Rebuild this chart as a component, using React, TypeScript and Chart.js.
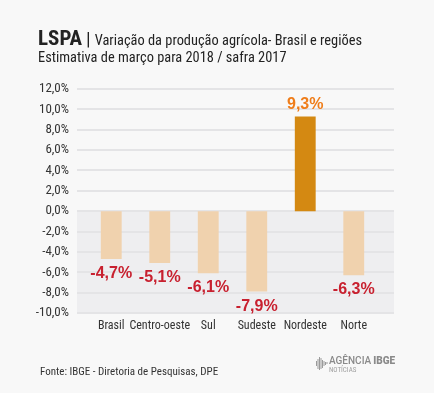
import React, { useEffect, useRef } from "react";
import { Chart, registerables } from "chart.js";

Chart.register(...registerables);

const categories = ["Brasil", "Centro-oeste", "Sul", "Sudeste", "Nordeste", "Norte"];
const values = [-4.7, -5.1, -6.1, -7.9, 9.3, -6.3];
const yTicks = [12, 10, 8, 6, 4, 2, 0, -2, -4, -6, -8, -10];

const NARROW = "'Liberation Sans Narrow', 'Roboto Condensed', 'Arial Narrow', Roboto, sans-serif";
const BOLD = "'Liberation Sans', Arial, sans-serif";

const fmt = (v: number) => v.toFixed(1).replace(".", ",") + "%";

const bgPlugin = {
  id: "bgGrid",
  beforeDatasetsDraw(chart: any) {
    const { ctx, chartArea, scales } = chart;
    const y = scales.y;
    const left = chartArea.left - 10;
    const right = chartArea.right + 16;
    ctx.save();
    const y0 = y.getPixelForValue(0);
    const yMin = y.getPixelForValue(-10);
    ctx.fillStyle = "#eeeef0";
    ctx.fillRect(left, y0, right - left, yMin - y0);
    ctx.strokeStyle = "#e4e4e6";
    ctx.lineWidth = 2;
    yTicks.forEach((t) => {
      const py = Math.round(y.getPixelForValue(t));
      ctx.beginPath();
      ctx.moveTo(left, py);
      ctx.lineTo(right, py);
      ctx.stroke();
    });
    ctx.restore();
  },
};

const labelPlugin = {
  id: "valLabels",
  afterDatasetsDraw(chart: any) {
    const { ctx } = chart;
    const meta = chart.getDatasetMeta(0);
    ctx.save();
    ctx.font = "bold 16px " + BOLD;
    ctx.textAlign = "center";
    ctx.textBaseline = "alphabetic";
    meta.data.forEach((bar: any, i: number) => {
      const v = values[i];
      if (v >= 0) {
        ctx.fillStyle = "#ef7d1a";
        ctx.fillText(fmt(v), bar.x, bar.y - 7);
      } else {
        ctx.fillStyle = "#c8202f";
        ctx.fillText(fmt(v), bar.x, bar.y + 19);
      }
    });
    ctx.restore();
  },
};

function ChartBox() {
  const ref = useRef<HTMLCanvasElement>(null);
  useEffect(() => {
    if (!ref.current) return;
    const chart = new Chart(ref.current, {
      type: "bar",
      data: {
        labels: categories,
        datasets: [
          {
            data: values,
            backgroundColor: values.map((v) => (v >= 0 ? "#d48912" : "#f0d2ae")),
            barPercentage: 1,
            categoryPercentage: 0.43,
          },
        ],
      },
      options: {
        animation: false,
        responsive: false,
        maintainAspectRatio: false,
        layout: { padding: { top: 89, bottom: 50, left: 0, right: 56 } },
        plugins: { legend: { display: false }, tooltip: { enabled: false }, title: { display: false } },
        scales: {
          x: {
            grid: { display: false, drawTicks: false },
            border: { display: false },
            ticks: { color: "#333", font: { family: NARROW, size: 12 }, padding: 6, maxRotation: 0, autoSkip: false },
            afterFit: (s: any) => { s.height = 30; },
          },
          y: {
            min: -10,
            max: 12,
            grid: { display: false, drawTicks: false },
            border: { display: false },
            ticks: { stepSize: 2, color: "#333", font: { family: NARROW, size: 13 }, padding: 18, callback: (v: any) => fmt(Number(v)) },
            afterFit: (s: any) => { s.width = 87; },
          },
        },
      },
      plugins: [bgPlugin, labelPlugin],
    });
    return () => chart.destroy();
  }, []);
  return <canvas ref={ref} width={434} height={393} style={{ position: "absolute", left: 0, top: 0, width: 434, height: 393 }} />;
}

export default function App() {
  return (
    <div style={{ position: "fixed", left: 0, top: 0, width: 434, height: 393, background: "#f8f8f8", overflow: "hidden" }}>
      <ChartBox />
      <div style={{ position: "absolute", left: 38, top: 28, fontFamily: NARROW, color: "#222", whiteSpace: "nowrap", lineHeight: "20px" }}>
        <span style={{ fontWeight: "bold", fontSize: 21 }}>LSPA</span>
        <span style={{ fontSize: 19, margin: "0 4px" }}>|</span>
        <span style={{ fontSize: 14.4 }}>Variação da produção agrícola- Brasil e regiões</span>
      </div>
      <div style={{ position: "absolute", left: 38, top: 50, fontFamily: NARROW, color: "#222", fontSize: 14.4, whiteSpace: "nowrap", lineHeight: "16px" }}>
        Estimativa de março para 2018 / safra 2017
      </div>
      <div style={{ position: "absolute", left: 40, top: 365, fontFamily: NARROW, color: "#333", fontSize: 11, whiteSpace: "nowrap", lineHeight: "14px" }}>
        Fonte: IBGE - Diretoria de Pesquisas, DPE
      </div>
      <div style={{ position: "absolute", left: 316, top: 356, whiteSpace: "nowrap" }}>
        <svg width={12} height={16} style={{ position: "absolute", left: 0, top: 1 }}>
          {[0, 1.5, 3, 4.5, 6, 7.5, 9, 10.5].map((x, i) => (
            <rect key={i} x={x} y={[4, 2, 0, 1, 3, 4, 5, 5][i]} width={1} height={[5, 10, 13, 11, 8, 5, 3, 2][i]} fill="#9a9a9a" />
          ))}
        </svg>
        <div style={{ position: "absolute", left: 13, top: 0, fontFamily: "Roboto, sans-serif", color: "#8a8a8a", fontSize: 10, lineHeight: "10px", fontWeight: 500 }}>
          AGÊNCIA<b style={{ marginLeft: 2, fontWeight: 900 }}>IBGE</b>
        </div>
        <div style={{ position: "absolute", left: 13, top: 10, fontFamily: NARROW, color: "#a0a0a0", fontSize: 7, lineHeight: "8px" }}>
          NOTÍCIAS
        </div>
      </div>
    </div>
  );
}
